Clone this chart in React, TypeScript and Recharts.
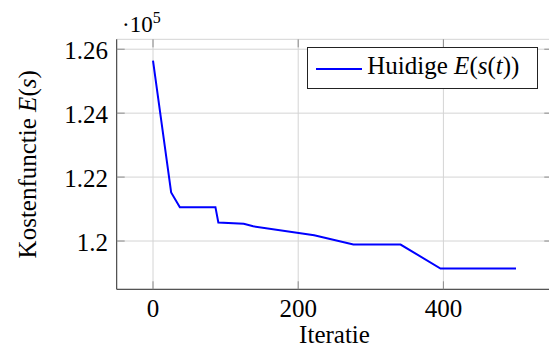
import {
  LineChart,
  Line,
  XAxis,
  YAxis,
  CartesianGrid,
  Legend,
} from 'recharts';

// iteraties en kostenwaarden
const iterations = [0, 25, 37, 86, 90, 125, 138, 222, 276, 341, 396, 500];
const costValues = [
  125640, 121520, 121060, 121060, 120580, 120540, 120460, 120180, 119890,
  119890, 119140, 119140,
];

const xTicks = [0, 200, 400];
const yTicks = [120000, 122000, 124000, 126000];
const yTickLabels = ['1.2', '1.22', '1.24', '1.26'];

const data = iterations.map((it, i) => ({iter: it, cost: costValues[i]}));

const FONT = '"Liberation Serif"';
const W = 560;
const H = 358;
const PLOT_LEFT = 116.7;
const PLOT_RIGHT = 552.3;
const PLOT_TOP = 39.3;
const PLOT_BOTTOM = 289.3;
const TICK_LEN = 8;
const TICK_COLOR = '#8c8c8c';

const XTick = (props: any) => {
  const x = props.payload.coordinate;
  return (
    <g>
      <line x1={x} x2={x} y1={PLOT_BOTTOM} y2={PLOT_BOTTOM - TICK_LEN} stroke={TICK_COLOR}/>
      <line x1={x} x2={x} y1={PLOT_TOP} y2={PLOT_TOP + TICK_LEN} stroke={TICK_COLOR}/>
      <text x={x} y={PLOT_BOTTOM + 28} textAnchor="middle" style={{fontFamily: FONT, fontSize: 25}} fill="#000">
        {props.payload.value}
      </text>
    </g>
  );
};

const YTick = (props: any) => {
  const y = props.payload.coordinate;
  const idx = yTicks.indexOf(props.payload.value);
  return (
    <g>
      <line x1={PLOT_LEFT} x2={PLOT_LEFT + TICK_LEN} y1={y} y2={y} stroke={TICK_COLOR}/>
      <line x1={PLOT_RIGHT} x2={PLOT_RIGHT - TICK_LEN} y1={y} y2={y} stroke={TICK_COLOR}/>
      <text x={108} y={y + 10} textAnchor="end" style={{fontFamily: FONT, fontSize: 25}} fill="#000">
        {yTickLabels[idx]}
      </text>
    </g>
  );
};

const LegendBox = () => (
  <div
    style={{
      boxSizing: 'border-box',
      width: 231,
      height: 42,
      border: '1px solid #222',
      background: '#fff',
      position: 'relative',
      fontFamily: FONT,
      fontSize: 25,
    }}
  >
    <div style={{position: 'absolute', left: 8, top: 19.5, width: 46, height: 2, background: '#0000ff'}}/>
    <span style={{position: 'absolute', left: 59, top: 3, whiteSpace: 'nowrap', lineHeight: '30px'}}>
      Huidige <i>E</i>(<i>s</i>(<i>t</i>))
    </span>
  </div>
);

const labelStyle = {fontFamily: FONT, fontSize: 25};

export default function App() {
  return (
    <div style={{position: 'absolute', left: 0, top: 0, width: 549, height: 358, overflow: 'hidden', background: '#fff', fontFamily: FONT}}>
      <LineChart
        width={W}
        height={H}
        data={data}
        margin={{top: PLOT_TOP, right: W - PLOT_RIGHT, bottom: 8.7, left: 0}}
      >
        <CartesianGrid stroke="#d4d4d4" strokeWidth={1}/>
        <XAxis
          dataKey="iter"
          type="number"
          domain={[-50, 550]}
          ticks={xTicks}
          tick={XTick}
          tickLine={false}
          axisLine={{stroke: '#333'}}
          height={60}
          allowDataOverflow
        />
        <XAxis xAxisId="top" orientation="top" type="number" domain={[-50, 550]} ticks={xTicks} tick={false} tickLine={false} axisLine={{stroke: '#333'}} height={0}/>
        <YAxis
          type="number"
          domain={[118490, 126310]}
          ticks={yTicks}
          tick={YTick}
          tickLine={false}
          axisLine={{stroke: '#333'}}
          width={PLOT_LEFT}
          allowDataOverflow
        />
        <YAxis yAxisId="right" orientation="right" type="number" domain={[118490, 126310]} ticks={yTicks} tick={false} tickLine={false} axisLine={{stroke: '#333'}} width={0}/>
        <Legend
          layout="horizontal"
          verticalAlign="middle"
          align="center"
          content={LegendBox}
          wrapperStyle={{left: 307.3, top: 47.3, width: 231, height: 42}}
        />
        <Line
          type="linear"
          dataKey="cost"
          stroke="#0000ff"
          strokeWidth={2}
          dot={false}
          isAnimationActive={false}
        />
      </LineChart>
      <svg width={549} height={358} style={{position: 'absolute', left: 0, top: 0, pointerEvents: 'none'}}>
        <text x={122} y={31.7} style={{fontFamily: FONT, fontSize: 23}} fill="#000">
          ·10<tspan style={{fontSize: 16}} dy={-9}>5</tspan>
        </text>
        <text
          x={36}
          y={164.3}
          transform="rotate(-90, 36, 164.3)"
          textAnchor="middle"
          style={labelStyle}
          fill="#000"
        >
          Kostenfunctie <tspan fontStyle="italic">E</tspan>(<tspan fontStyle="italic">s</tspan>)
        </text>
        <text x={334.5} y={343} textAnchor="middle" style={labelStyle} fill="#000">
          Iteratie
        </text>
      </svg>
    </div>
  );
}
